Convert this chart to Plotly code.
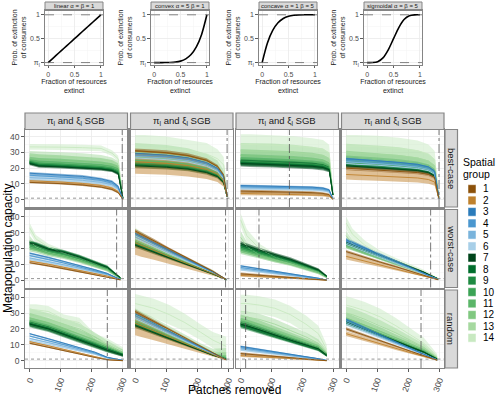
import plotly.graph_objects as go

FONT = "Liberation Sans, Arial, sans-serif"
W, H = 500, 399

# ---------------- data: top shape panels ----------------
SHAPE_TITLES = ["linear α = β = 1", "convex α = 5 β = 1", "concave α = 1 β = 5", "sigmoidal α = β = 5"]
SHAPE_X = [0, 0.1, 0.2, 0.3, 0.4, 0.5, 0.6, 0.7, 0.8, 0.9, 1.0]
SHAPE_LINEAR = [0, 0.1, 0.2, 0.3, 0.4, 0.5, 0.6, 0.7, 0.8, 0.9, 1.0]
SHAPE_CONVEX = [0, 0.0, 0.0003, 0.0024, 0.0102, 0.031, 0.078, 0.168, 0.328, 0.59, 1.0]
SHAPE_CONCAVE = [0, 0.41, 0.672, 0.832, 0.922, 0.969, 0.99, 0.998, 1.0, 1.0, 1.0]
SHAPE_SIGMOID = [0, 0.0009, 0.0196, 0.0988, 0.2666, 0.5, 0.7334, 0.9012, 0.9804, 0.9991, 1.0]

# ---------------- data: main panels ----------------
COL_TITLE = "π<sub>l</sub> and ξ<sub>l</sub> SGB"
ROW_TITLES = ["best-case", "worst-case", "random"]
GROUP_LABELS = ["1", "2", "3", "4", "5", "6", "7", "8", "9", "10", "11", "12", "13", "14"]
GROUP_COLORS = ["#8c510a", "#bf812d", "#2b7bba", "#4b97cf", "#7ab4dc", "#a8cfe8",
                "#00441b", "#006d2c", "#1f8a42", "#3ba355", "#5bb669", "#80c880", "#a6d9a0", "#c8e9c1"]

KNOTS_BEST = [0, 30, 100, 170, 230, 265, 285]
KNOTS_OTHER = [0, 20, 60, 110, 160, 210, 250]
END_X = [[300, 296, 297, 298], [292, 293, 277, 296], [300, 293, 277, 293]]
THRESHOLD_X = [[298, 296, 157, 299], [280, 291, 59, 272], [250, 278, 16, 241]]
X_TICKS = [0, 100, 200, 300]
Y_TICKS = [0, 10, 20, 30, 40]

MEAN_BEST_1 = [
    [11, 10.8, 10.2, 9.3, 8.0, 6.5, 4.5, 0.3],
    [12, 11.8, 11.2, 10.3, 9.0, 7.4, 5.2, 0.3],
    [16.8, 16.5, 15.8, 14.8, 13.2, 11.5, 8.5, 0.5],
    [15.5, 15.2, 14.6, 13.6, 12.2, 10.5, 7.8, 0.5],
    [14, 13.8, 13.2, 12.3, 11, 9.5, 7, 0.5],
    [12.8, 12.6, 12, 11.2, 10, 8.6, 6.4, 0.5],
    [23, 21.3, 20.8, 20.2, 19.4, 18.5, 16.5, 1],
    [23.5, 21.8, 21.2, 20.6, 19.8, 18.8, 17, 1],
    [24, 22.3, 21.7, 21, 20.2, 19.2, 17.5, 1],
    [24, 23.2, 22.6, 21.9, 21, 20, 18.5, 1],
    [24.8, 24.2, 23.6, 22.9, 22, 21, 19.5, 1],
    [26, 25.6, 25, 24.3, 23.4, 22.3, 20.5, 1],
    [28, 27.8, 27.3, 26.6, 25.6, 24.2, 22, 1.2],
    [33.5, 33.5, 33.3, 33, 32.5, 29.5, 26, 1.5],
]
HW_BEST_1 = [
    [0.6, 0.6, 0.6, 0.6, 0.6, 0.6, 0.5, 0.2],
    [0.8, 0.8, 0.8, 0.8, 0.8, 0.8, 0.6, 0.2],
    [0.8, 0.8, 0.8, 0.8, 0.8, 0.8, 0.7, 0.3],
    [0.8, 0.8, 0.8, 0.8, 0.8, 0.8, 0.7, 0.3],
    [0.7, 0.7, 0.7, 0.7, 0.7, 0.7, 0.6, 0.3],
    [0.6, 0.6, 0.6, 0.6, 0.6, 0.6, 0.5, 0.3],
    [1.2, 1, 1, 1, 1, 1, 1, 0.5],
    [1.2, 1, 1, 1, 1, 1, 1, 0.5],
    [1.3, 1.1, 1.1, 1.1, 1.1, 1.1, 1, 0.5],
    [1.8, 1.6, 1.6, 1.6, 1.6, 1.5, 1.4, 0.5],
    [2.5, 2.3, 2.3, 2.3, 2.2, 2.1, 2, 0.6],
    [3.5, 3.2, 3.2, 3.1, 3, 2.8, 2.6, 0.7],
    [2.8, 2.8, 2.8, 2.8, 2.7, 2.6, 2.4, 0.8],
    [1.8, 1.8, 1.8, 1.8, 1.8, 1.8, 1.8, 0.8],
]
MEAN_BEST_2 = [
    [31, 30.7, 29.8, 28, 25, 21, 15.5, 2],
    [24, 23.7, 23, 21.6, 19.2, 16.3, 12, 2],
    [29.5, 29.2, 28.3, 26.6, 23.6, 20, 14.8, 2],
    [28.5, 28.2, 27.4, 25.7, 22.8, 19.4, 14.3, 2],
    [27.5, 27.2, 26.4, 24.8, 22, 18.7, 13.8, 2],
    [26.5, 26.2, 25.4, 23.9, 21.2, 18, 13.3, 2],
    [21.5, 21.3, 20.6, 19.4, 17.2, 14.6, 10.8, 1.8],
    [22, 21.8, 21.1, 19.8, 17.6, 15, 11, 1.8],
    [22.5, 22.3, 21.6, 20.3, 18, 15.3, 11.3, 1.8],
    [23.5, 23.3, 22.6, 21.2, 18.8, 16, 11.8, 2],
    [25, 24.7, 24, 22.5, 20, 17, 12.5, 2],
    [27, 26.7, 26, 24.5, 21.8, 18.5, 13.8, 2],
    [30, 29.7, 28.8, 27, 24, 20.4, 15, 2],
    [33, 33, 32.5, 31, 29, 26, 22, 3],
]
HW_BEST_2 = [
    [1.5, 1.5, 1.5, 1.4, 1.3, 1.2, 1, 0.4],
    [7.5, 7.4, 7.2, 6.8, 6, 5, 3.8, 0.5],
    [1, 1, 1, 1, 0.9, 0.8, 0.7, 0.3],
    [1, 1, 1, 1, 0.9, 0.8, 0.7, 0.3],
    [1, 1, 1, 1, 0.9, 0.8, 0.7, 0.3],
    [1, 1, 1, 1, 0.9, 0.8, 0.7, 0.3],
    [1.5, 1.5, 1.5, 1.4, 1.3, 1.2, 1, 0.4],
    [1.5, 1.5, 1.5, 1.4, 1.3, 1.2, 1, 0.4],
    [1.5, 1.5, 1.5, 1.4, 1.3, 1.2, 1, 0.4],
    [2, 2, 2, 1.9, 1.8, 1.6, 1.3, 0.4],
    [3, 3, 3, 2.8, 2.6, 2.3, 1.8, 0.5],
    [4.5, 4.5, 4.4, 4.2, 3.8, 3.3, 2.6, 0.6],
    [6, 6, 5.9, 5.6, 5, 4.4, 3.5, 0.7],
    [8, 8, 7.5, 7, 7, 6, 5, 1],
]
MEAN_BEST_3 = [
    [5.5, 5.4, 5.2, 4.9, 4.5, 4, 3.2, 0.3],
    [4, 3.9, 3.8, 3.6, 3.3, 2.9, 2.3, 0.3],
    [9, 8.9, 8.7, 8.4, 8, 7.4, 6.3, 0.5],
    [8.3, 8.2, 8, 7.7, 7.3, 6.8, 5.8, 0.5],
    [7.6, 7.5, 7.3, 7, 6.7, 6.2, 5.3, 0.5],
    [6.9, 6.8, 6.6, 6.4, 6.1, 5.6, 4.8, 0.5],
    [23, 22.8, 22.4, 21.9, 21.2, 20.4, 19, 3],
    [23.5, 23.3, 22.9, 22.4, 21.7, 20.9, 19.4, 3],
    [24, 23.8, 23.4, 22.9, 22.2, 21.4, 19.8, 3],
    [24.5, 24.3, 23.9, 23.3, 22.6, 21.8, 20.2, 3],
    [26, 25.8, 25.4, 24.8, 24, 23, 21.4, 3],
    [28, 27.8, 27.4, 26.8, 26, 25, 23.2, 3],
    [31, 31, 30.6, 30, 29, 28, 26, 3.5],
    [35, 35, 34.5, 34, 33, 32, 29.5, 4],
]
HW_BEST_3 = [
    [1, 1, 1, 1, 0.9, 0.8, 0.7, 0.3],
    [1.2, 1.2, 1.2, 1.1, 1, 0.9, 0.8, 0.3],
    [0.6, 0.6, 0.6, 0.6, 0.6, 0.6, 0.5, 0.3],
    [0.6, 0.6, 0.6, 0.6, 0.6, 0.6, 0.5, 0.3],
    [0.6, 0.6, 0.6, 0.6, 0.6, 0.6, 0.5, 0.3],
    [0.6, 0.6, 0.6, 0.6, 0.6, 0.6, 0.5, 0.3],
    [2, 2, 2, 2, 1.9, 1.8, 1.6, 0.8],
    [2, 2, 2, 2, 1.9, 1.8, 1.6, 0.8],
    [2, 2, 2, 2, 1.9, 1.8, 1.6, 0.8],
    [2.5, 2.5, 2.5, 2.4, 2.3, 2.2, 2, 0.8],
    [3, 3, 3, 2.9, 2.8, 2.6, 2.4, 0.9],
    [4, 4, 4, 3.9, 3.7, 3.5, 3.2, 1],
    [5, 5, 5, 4.8, 4.6, 4.4, 4, 1],
    [6.5, 6.5, 6.3, 6.2, 6, 5.8, 5.3, 1.2],
]
MEAN_BEST_4 = [
    [20, 19.6, 19, 18.2, 17.2, 16, 14, 1],
    [16, 15.7, 15.2, 14.6, 13.8, 12.8, 11.2, 1],
    [26, 25.5, 24.7, 23.7, 22.4, 20.8, 18.2, 1.5],
    [25, 24.5, 23.8, 22.8, 21.5, 20, 17.5, 1.5],
    [24, 23.5, 22.8, 21.8, 20.6, 19.2, 16.8, 1.5],
    [23, 22.5, 21.9, 20.9, 19.8, 18.4, 16.1, 1.5],
    [21.5, 21.1, 20.4, 19.6, 18.5, 17.2, 15, 1.5],
    [22, 21.6, 20.9, 20, 18.9, 17.6, 15.4, 1.5],
    [22.5, 22, 21.4, 20.5, 19.4, 18, 15.8, 1.5],
    [23.5, 23, 22.3, 21.4, 20.2, 18.8, 16.5, 1.5],
    [25, 24.5, 23.8, 22.8, 21.5, 20, 17.5, 1.5],
    [27, 26.5, 25.7, 24.6, 23.2, 21.6, 19, 1.5],
    [30, 29.7, 29, 28, 26.5, 24.5, 21.5, 2],
    [34, 34, 33.5, 32.5, 31, 29, 25.5, 2.5],
]
HW_BEST_4 = [
    [1.2, 1.2, 1.2, 1.1, 1.1, 1, 0.9, 0.4],
    [3.2, 3.2, 3.1, 3, 2.8, 2.6, 2.3, 0.5],
    [1.2, 1.2, 1.2, 1.1, 1.1, 1, 0.9, 0.4],
    [1.2, 1.2, 1.2, 1.1, 1.1, 1, 0.9, 0.4],
    [1.2, 1.2, 1.2, 1.1, 1.1, 1, 0.9, 0.4],
    [1.2, 1.2, 1.2, 1.1, 1.1, 1, 0.9, 0.4],
    [1.5, 1.5, 1.5, 1.4, 1.4, 1.3, 1.1, 0.5],
    [1.5, 1.5, 1.5, 1.4, 1.4, 1.3, 1.1, 0.5],
    [1.5, 1.5, 1.5, 1.4, 1.4, 1.3, 1.1, 0.5],
    [2, 2, 2, 1.9, 1.8, 1.7, 1.5, 0.5],
    [3, 3, 3, 2.9, 2.7, 2.5, 2.2, 0.6],
    [4, 4, 4, 3.8, 3.6, 3.3, 2.9, 0.7],
    [5.5, 5.5, 5.4, 5.2, 4.9, 4.5, 4, 0.8],
    [7, 7, 7, 6.8, 6.5, 6, 5.3, 1],
]
MEAN_WORST_1 = [
    [11, 10.4, 9, 7.2, 5.4, 3.5, 2, 0.2],
    [12, 11.4, 10, 8.1, 6.2, 4.2, 2.6, 0.2],
    [17, 16.2, 14.3, 11.8, 9.3, 6.6, 4.3, 0.5],
    [15.5, 14.8, 13, 10.8, 8.5, 6, 3.9, 0.5],
    [14, 13.3, 11.7, 9.7, 7.6, 5.4, 3.5, 0.5],
    [13, 12.4, 10.9, 9, 7.1, 5, 3.2, 0.5],
    [23.5, 22.5, 19.5, 17.5, 14.5, 11, 8, 1.5],
    [24, 23, 20, 18, 15, 11.5, 8.5, 1.5],
    [22.5, 21.5, 18.8, 16.8, 14, 10.7, 7.7, 1.5],
    [21.5, 20.5, 18, 16, 13.3, 10.2, 7.3, 1.3],
    [20.5, 19.5, 17.2, 15.3, 12.7, 9.7, 7, 1.2],
    [19.5, 18.8, 16.5, 14.7, 12.2, 9.3, 6.7, 1.2],
    [25, 21, 17.5, 15.5, 12.8, 9.8, 7, 1.2],
    [33, 26, 21, 17, 14, 10.5, 7.5, 1.2],
]
HW_WORST_1 = [
    [0.5, 0.5, 0.5, 0.5, 0.5, 0.4, 0.3, 0.1],
    [0.6, 0.6, 0.6, 0.5, 0.5, 0.4, 0.3, 0.1],
    [0.6, 0.6, 0.6, 0.5, 0.5, 0.4, 0.3, 0.2],
    [0.6, 0.6, 0.6, 0.5, 0.5, 0.4, 0.3, 0.2],
    [0.6, 0.6, 0.6, 0.5, 0.5, 0.4, 0.3, 0.2],
    [0.6, 0.6, 0.6, 0.5, 0.5, 0.4, 0.3, 0.2],
    [1, 1, 1, 1, 1, 0.9, 0.8, 0.4],
    [1, 1, 1, 1, 1, 0.9, 0.8, 0.4],
    [1, 1, 1, 1, 1, 0.9, 0.8, 0.4],
    [1.2, 1.2, 1.2, 1.1, 1.1, 1, 0.9, 0.4],
    [1.2, 1.2, 1.2, 1.1, 1.1, 1, 0.9, 0.4],
    [1.5, 1.5, 1.4, 1.4, 1.3, 1.2, 1.1, 0.5],
    [3, 2, 1.5, 1.5, 1.5, 1.5, 1.5, 0.5],
    [3, 2.5, 2, 2, 2, 2, 2, 0.8],
]
MEAN_WORST_2 = [
    [31, 29, 25, 19.5, 14.5, 9.6, 5.6, 0.5],
    [23.5, 21.8, 18.8, 14.8, 11, 7.3, 4.2, 0.4],
    [29.5, 27.5, 23.6, 18.6, 13.9, 9.1, 5.3, 0.5],
    [28.5, 26.5, 22.8, 18, 13.4, 8.8, 5.1, 0.5],
    [27.5, 25.6, 22, 17.3, 12.9, 8.5, 5, 0.5],
    [26.5, 24.6, 21.2, 16.7, 12.5, 8.2, 4.8, 0.5],
    [22, 20.5, 17.6, 13.9, 10.3, 6.8, 4, 0.4],
    [22.5, 20.9, 18, 14.2, 10.6, 7, 4.1, 0.4],
    [23, 21.4, 18.4, 14.5, 10.8, 7.1, 4.1, 0.4],
    [23.5, 21.9, 18.8, 14.8, 11, 7.3, 4.2, 0.4],
    [24, 22.3, 19.2, 15.1, 11.3, 7.4, 4.3, 0.4],
    [25, 23.2, 20, 15.8, 11.8, 7.8, 4.5, 0.4],
    [26, 24.2, 20.8, 16.4, 12.2, 8.1, 4.7, 0.5],
    [28, 26, 22, 17, 12.5, 8.5, 5, 0.5],
]
HW_WORST_2 = [
    [1.2, 1.2, 1.1, 1, 0.9, 0.8, 0.6, 0.2],
    [7.5, 7, 6, 4.7, 3.5, 2.3, 1.4, 0.2],
    [1, 1, 0.9, 0.8, 0.7, 0.6, 0.5, 0.2],
    [1, 1, 0.9, 0.8, 0.7, 0.6, 0.5, 0.2],
    [1, 1, 0.9, 0.8, 0.7, 0.6, 0.5, 0.2],
    [1, 1, 0.9, 0.8, 0.7, 0.6, 0.5, 0.2],
    [1.5, 1.4, 1.3, 1.1, 0.9, 0.7, 0.5, 0.2],
    [1.5, 1.4, 1.3, 1.1, 0.9, 0.7, 0.5, 0.2],
    [1.5, 1.4, 1.3, 1.1, 0.9, 0.7, 0.5, 0.2],
    [2, 1.9, 1.7, 1.4, 1.1, 0.8, 0.6, 0.2],
    [2.5, 2.4, 2.1, 1.7, 1.3, 1, 0.7, 0.2],
    [3, 2.8, 2.5, 2, 1.6, 1.2, 0.8, 0.2],
    [3.5, 3.3, 2.9, 2.4, 1.9, 1.4, 0.9, 0.3],
    [5, 4.5, 3.5, 3, 2.5, 2, 1.5, 0.3],
]
MEAN_WORST_3 = [
    [4, 3.7, 3.2, 2.5, 1.8, 1.1, 0.6, 0],
    [3, 2.8, 2.4, 1.9, 1.4, 0.8, 0.4, 0],
    [9, 8.4, 7.2, 5.7, 4.1, 2.5, 1.3, 0.1],
    [8, 7.4, 6.4, 5, 3.7, 2.2, 1.1, 0.1],
    [7.2, 6.7, 5.8, 4.5, 3.3, 2, 1, 0.1],
    [6.4, 6, 5.1, 4, 2.9, 1.8, 0.9, 0.1],
    [23, 21.5, 19, 16, 13.2, 9.5, 6.5, 2.5],
    [22, 20.6, 18.2, 15.3, 12.6, 9.1, 6.2, 2.4],
    [21, 19.7, 17.4, 14.6, 12, 8.7, 5.9, 2.3],
    [20, 18.8, 16.6, 14, 11.5, 8.3, 5.7, 2.2],
    [19, 17.9, 15.8, 13.3, 10.9, 7.9, 5.4, 2.1],
    [18, 17, 15, 12.6, 10.4, 7.5, 5.1, 2],
    [27, 21, 16, 13, 10.5, 7.6, 5.2, 2],
    [38, 28, 20, 14.5, 11.5, 8.2, 5.5, 2],
]
HW_WORST_3 = [
    [0.8, 0.8, 0.7, 0.6, 0.5, 0.4, 0.3, 0],
    [0.8, 0.8, 0.7, 0.6, 0.5, 0.4, 0.3, 0],
    [0.5, 0.5, 0.5, 0.4, 0.4, 0.3, 0.2, 0.1],
    [0.5, 0.5, 0.5, 0.4, 0.4, 0.3, 0.2, 0.1],
    [0.5, 0.5, 0.5, 0.4, 0.4, 0.3, 0.2, 0.1],
    [0.5, 0.5, 0.5, 0.4, 0.4, 0.3, 0.2, 0.1],
    [1.5, 1.5, 1.4, 1.3, 1.2, 1.1, 1, 0.6],
    [1.5, 1.5, 1.4, 1.3, 1.2, 1.1, 1, 0.6],
    [1.5, 1.5, 1.4, 1.3, 1.2, 1.1, 1, 0.6],
    [1.5, 1.5, 1.4, 1.3, 1.2, 1.1, 1, 0.6],
    [1.5, 1.5, 1.4, 1.3, 1.2, 1.1, 1, 0.6],
    [1.5, 1.5, 1.4, 1.3, 1.2, 1.1, 1, 0.6],
    [4, 3, 2, 1.8, 1.6, 1.5, 1.4, 0.8],
    [4, 4, 3, 2.5, 2, 2, 1.8, 1],
]
MEAN_WORST_4 = [
    [18, 16.7, 14.4, 11.3, 8.5, 5.6, 3.2, 0.3],
    [15, 14, 12, 9.5, 7, 4.6, 2.7, 0.3],
    [25.5, 23.7, 20.4, 16.1, 12, 7.9, 4.6, 0.5],
    [24.5, 22.8, 19.6, 15.4, 11.5, 7.6, 4.4, 0.5],
    [23.5, 21.9, 18.8, 14.8, 11, 7.3, 4.2, 0.5],
    [22.5, 20.9, 18, 14.2, 10.6, 7, 4, 0.5],
    [24, 22.3, 19.2, 15.5, 11.8, 8, 5, 0.8],
    [23.5, 21.9, 18.8, 15.2, 11.6, 7.8, 4.9, 0.8],
    [23, 21.4, 18.4, 14.9, 11.3, 7.6, 4.8, 0.8],
    [22.5, 20.9, 18, 14.5, 11, 7.4, 4.6, 0.8],
    [22, 20.5, 17.6, 14.2, 10.8, 7.2, 4.5, 0.8],
    [21.5, 20, 17.2, 13.9, 10.5, 7, 4.4, 0.8],
    [28, 23, 18.5, 14.5, 11, 7.3, 4.5, 0.8],
    [36, 29, 22, 16, 12, 8, 5, 1],
]
HW_WORST_4 = [
    [1, 1, 0.9, 0.8, 0.7, 0.5, 0.4, 0.1],
    [2, 1.9, 1.7, 1.4, 1.1, 0.8, 0.5, 0.1],
    [1, 1, 0.9, 0.8, 0.7, 0.5, 0.4, 0.2],
    [1, 1, 0.9, 0.8, 0.7, 0.5, 0.4, 0.2],
    [1, 1, 0.9, 0.8, 0.7, 0.5, 0.4, 0.2],
    [1, 1, 0.9, 0.8, 0.7, 0.5, 0.4, 0.2],
    [1.2, 1.2, 1.1, 1, 0.9, 0.7, 0.5, 0.2],
    [1.2, 1.2, 1.1, 1, 0.9, 0.7, 0.5, 0.2],
    [1.2, 1.2, 1.1, 1, 0.9, 0.7, 0.5, 0.2],
    [1.3, 1.3, 1.2, 1.1, 1, 0.8, 0.6, 0.2],
    [1.5, 1.5, 1.4, 1.2, 1.1, 0.9, 0.7, 0.2],
    [1.5, 1.5, 1.4, 1.2, 1.1, 0.9, 0.7, 0.2],
    [3, 2.5, 2, 1.8, 1.6, 1.4, 1.2, 0.5],
    [4, 3.5, 3, 2.5, 2, 1.8, 1.5, 0.5],
]
MEAN_RANDOM_1 = [
    [11, 10.2, 8.5, 6.3, 4.2, 2, 0.5, 0],
    [12, 11.2, 9.4, 7.1, 4.8, 2.5, 0.8, 0],
    [17, 16, 13.8, 11, 8.2, 5.4, 2.2, 0.2],
    [15.5, 14.6, 12.6, 10.1, 7.5, 4.9, 2, 0.2],
    [14, 13.2, 11.4, 9.1, 6.8, 4.4, 1.8, 0.2],
    [12.8, 12, 10.4, 8.3, 6.2, 4, 1.6, 0.2],
    [23, 22, 20, 16.5, 13, 9.5, 6.5, 3.5],
    [23.5, 22.5, 20.5, 17, 13.5, 10, 7, 4],
    [22.5, 21.5, 19.5, 16, 12.5, 9.2, 6.2, 3.5],
    [24, 23, 21, 17.5, 14, 10.5, 7.5, 4],
    [25, 24, 22, 18.5, 15, 11.5, 8, 4.5],
    [27, 26, 24, 20.5, 17, 13, 9, 5],
    [29, 28, 26, 23, 20, 15, 10, 5],
    [32, 32, 31, 26, 24, 14, 11, 6],
]
HW_RANDOM_1 = [
    [0.5, 0.5, 0.5, 0.4, 0.3, 0.2, 0.1, 0],
    [0.6, 0.6, 0.5, 0.4, 0.3, 0.2, 0.1, 0],
    [0.5, 0.5, 0.5, 0.4, 0.4, 0.3, 0.2, 0.1],
    [0.5, 0.5, 0.5, 0.4, 0.4, 0.3, 0.2, 0.1],
    [0.5, 0.5, 0.5, 0.4, 0.4, 0.3, 0.2, 0.1],
    [0.5, 0.5, 0.5, 0.4, 0.4, 0.3, 0.2, 0.1],
    [1.5, 1.5, 1.5, 1.4, 1.3, 1.2, 1.1, 1],
    [1.5, 1.5, 1.5, 1.4, 1.3, 1.2, 1.1, 1],
    [1.5, 1.5, 1.5, 1.4, 1.3, 1.2, 1.1, 1],
    [1.8, 1.8, 1.7, 1.6, 1.5, 1.4, 1.3, 1.2],
    [2.2, 2.2, 2.1, 2, 1.9, 1.8, 1.6, 1.4],
    [3, 3, 2.9, 2.7, 2.5, 2.3, 2, 1.8],
    [4, 4, 3.8, 3.5, 3.2, 2.8, 2.5, 2.2],
    [3.5, 3.5, 3.5, 3, 3, 3, 3, 2.5],
]
MEAN_RANDOM_2 = [
    [31, 28.9, 24.8, 19.5, 14.3, 9, 5, 0.6],
    [23.5, 21.9, 18.8, 14.8, 10.8, 6.8, 3.8, 0.5],
    [29.5, 27.4, 23.6, 18.6, 13.6, 8.6, 4.7, 0.6],
    [28.5, 26.5, 22.8, 18, 13.1, 8.3, 4.6, 0.6],
    [27.5, 25.6, 22, 17.3, 12.7, 8, 4.4, 0.6],
    [26.5, 24.6, 21.2, 16.7, 12.2, 7.7, 4.2, 0.6],
    [22, 20.5, 17.6, 13.9, 10.1, 6.4, 3.5, 1],
    [22.5, 20.9, 18, 14.2, 10.4, 6.5, 3.6, 1],
    [23, 21.4, 18.4, 14.5, 10.6, 6.7, 3.7, 1],
    [23.5, 21.9, 18.8, 14.8, 10.8, 6.8, 3.8, 1.5],
    [24.5, 22.8, 19.6, 15.4, 11.3, 7.1, 4, 2],
    [26, 24.2, 20.8, 16.4, 12, 7.5, 4.2, 3],
    [29, 27, 23.5, 19, 14, 9, 5.5, 5],
    [36, 35, 33, 29, 24, 18, 13, 9],
]
HW_RANDOM_2 = [
    [1.2, 1.2, 1.1, 1, 0.8, 0.6, 0.4, 0.2],
    [7.5, 7, 6, 4.7, 3.5, 2.2, 1.2, 0.3],
    [1, 1, 0.9, 0.8, 0.7, 0.5, 0.4, 0.2],
    [1, 1, 0.9, 0.8, 0.7, 0.5, 0.4, 0.2],
    [1, 1, 0.9, 0.8, 0.7, 0.5, 0.4, 0.2],
    [1, 1, 0.9, 0.8, 0.7, 0.5, 0.4, 0.2],
    [1.5, 1.4, 1.3, 1.1, 0.9, 0.7, 0.5, 0.4],
    [1.5, 1.4, 1.3, 1.1, 0.9, 0.7, 0.5, 0.4],
    [1.5, 1.4, 1.3, 1.1, 0.9, 0.7, 0.5, 0.4],
    [2, 1.9, 1.7, 1.4, 1.1, 0.8, 0.6, 0.8],
    [2.5, 2.4, 2.1, 1.7, 1.3, 1, 0.7, 1.2],
    [3, 2.8, 2.5, 2, 1.6, 1.2, 0.8, 2],
    [4, 3.8, 3.5, 3, 2.5, 2, 2, 3],
    [6, 6, 6, 6, 5.5, 5, 5, 6],
]
MEAN_RANDOM_3 = [
    [4.5, 4.2, 3.6, 2.8, 2, 1.2, 0.6, 0],
    [3.2, 3, 2.6, 2, 1.4, 0.8, 0.4, 0],
    [9, 8.4, 7.2, 5.7, 4.1, 2.5, 1.3, 0.1],
    [8.2, 7.6, 6.6, 5.2, 3.8, 2.3, 1.2, 0.1],
    [7.4, 6.9, 5.9, 4.7, 3.4, 2.1, 1.1, 0.1],
    [6.6, 6.1, 5.3, 4.2, 3, 1.8, 0.9, 0.1],
    [23, 22, 19.5, 16, 13, 10, 7.5, 3.5],
    [22.5, 21.5, 19, 15.6, 12.7, 9.7, 7.3, 3.4],
    [22, 21, 18.6, 15.3, 12.4, 9.5, 7.1, 3.3],
    [23.5, 22.5, 20, 16.5, 13.4, 10.3, 7.8, 3.6],
    [24.5, 23.5, 21, 17.5, 14.2, 11, 8.3, 3.8],
    [26, 25, 22.5, 19, 15.5, 12, 9, 4],
    [28, 27.5, 26, 23, 19, 15, 11, 5],
    [36, 36, 35, 33, 29, 23, 17, 7],
]
HW_RANDOM_3 = [
    [0.8, 0.8, 0.7, 0.6, 0.5, 0.4, 0.3, 0],
    [0.8, 0.8, 0.7, 0.6, 0.5, 0.4, 0.3, 0],
    [0.5, 0.5, 0.5, 0.4, 0.4, 0.3, 0.2, 0.1],
    [0.5, 0.5, 0.5, 0.4, 0.4, 0.3, 0.2, 0.1],
    [0.5, 0.5, 0.5, 0.4, 0.4, 0.3, 0.2, 0.1],
    [0.5, 0.5, 0.5, 0.4, 0.4, 0.3, 0.2, 0.1],
    [1.5, 1.5, 1.5, 1.4, 1.3, 1.2, 1.1, 0.8],
    [1.5, 1.5, 1.5, 1.4, 1.3, 1.2, 1.1, 0.8],
    [1.5, 1.5, 1.5, 1.4, 1.3, 1.2, 1.1, 0.8],
    [2, 2, 1.9, 1.8, 1.7, 1.5, 1.3, 1],
    [2.5, 2.5, 2.4, 2.2, 2, 1.8, 1.6, 1.2],
    [3, 3, 2.9, 2.7, 2.5, 2.2, 2, 1.4],
    [3.5, 3.5, 3.5, 3.3, 3, 2.8, 2.5, 1.8],
    [5.5, 5.5, 5.5, 5.5, 5.5, 5.5, 5, 3],
]
MEAN_RANDOM_4 = [
    [20, 18.6, 16, 12.6, 9.2, 5.8, 3.2, 0.3],
    [17, 15.8, 13.6, 10.7, 7.8, 4.9, 2.7, 0.3],
    [26, 24.2, 20.8, 16.4, 12, 7.5, 4.2, 0.5],
    [25, 23.3, 20, 15.8, 11.5, 7.3, 4, 0.5],
    [24, 22.3, 19.2, 15.1, 11, 7, 3.8, 0.5],
    [23, 21.4, 18.4, 14.5, 10.6, 6.7, 3.7, 0.5],
    [24.5, 23, 20, 16, 12.3, 8.5, 5.5, 1],
    [24, 22.5, 19.6, 15.7, 12, 8.3, 5.4, 1],
    [23.5, 22, 19.2, 15.4, 11.8, 8.1, 5.3, 1],
    [24, 22.6, 19.8, 16, 12.4, 8.6, 5.7, 1.2],
    [25, 23.6, 20.8, 17, 13.2, 9.3, 6.2, 1.4],
    [27, 25.5, 22.5, 18.5, 14.5, 10.3, 7, 1.6],
    [30, 29, 26, 22, 17.5, 12.5, 8.5, 2],
    [35, 34, 31.5, 27.5, 22, 16, 11, 3],
]
HW_RANDOM_4 = [
    [1, 1, 0.9, 0.8, 0.7, 0.5, 0.4, 0.1],
    [1.5, 1.5, 1.4, 1.2, 1, 0.8, 0.5, 0.1],
    [1, 1, 0.9, 0.8, 0.7, 0.5, 0.4, 0.2],
    [1, 1, 0.9, 0.8, 0.7, 0.5, 0.4, 0.2],
    [1, 1, 0.9, 0.8, 0.7, 0.5, 0.4, 0.2],
    [1, 1, 0.9, 0.8, 0.7, 0.5, 0.4, 0.2],
    [1.2, 1.2, 1.1, 1, 0.9, 0.8, 0.6, 0.3],
    [1.2, 1.2, 1.1, 1, 0.9, 0.8, 0.6, 0.3],
    [1.2, 1.2, 1.1, 1, 0.9, 0.8, 0.6, 0.3],
    [1.5, 1.5, 1.4, 1.3, 1.2, 1, 0.8, 0.4],
    [2, 2, 1.9, 1.7, 1.5, 1.3, 1.1, 0.5],
    [3, 3, 2.8, 2.5, 2.2, 1.9, 1.5, 0.6],
    [4, 4, 3.8, 3.5, 3, 2.5, 2, 0.8],
    [5.5, 5.5, 5.4, 5.2, 4.8, 4.2, 3.5, 1.2],
]

PANELS = [
    [(MEAN_BEST_1, HW_BEST_1), (MEAN_BEST_2, HW_BEST_2), (MEAN_BEST_3, HW_BEST_3), (MEAN_BEST_4, HW_BEST_4)],
    [(MEAN_WORST_1, HW_WORST_1), (MEAN_WORST_2, HW_WORST_2), (MEAN_WORST_3, HW_WORST_3), (MEAN_WORST_4, HW_WORST_4)],
    [(MEAN_RANDOM_1, HW_RANDOM_1), (MEAN_RANDOM_2, HW_RANDOM_2), (MEAN_RANDOM_3, HW_RANDOM_3), (MEAN_RANDOM_4, HW_RANDOM_4)],
]

# ---------------- layout geometry (pixels) ----------------
def fx(p):
    return p / W


def fy(p):
    return 1 - p / H


def rgba(hexc, a):
    h = hexc.lstrip("#")
    return "rgba(%d,%d,%d,%.3f)" % (int(h[0:2], 16), int(h[2:4], 16), int(h[4:6], 16), a)


SMALL_LEFT = [45, 151, 259, 364]
SMALL_W = 58
SMALL_STRIP = (2, 10.5)
SMALL_PLOT = (10.5, 64.5)

COL_LEFT = [25, 130.5, 236, 341.5]
COL_W = 102.5
ROW_SPAN = [(129.5, 207), (209.5, 287.5), (290, 368)]
TOP_STRIP = (113, 129.5)
RIGHT_STRIP = (445, 457.5)

BORDER = "#858585"
STRIP_FILL = "#d9d9d9"
GRID = "#ebebeb"
TICKTXT = "#4d4d4d"

fig = go.Figure()
layout = dict(
    width=W, height=H, margin=dict(l=0, r=0, t=0, b=0, pad=0),
    paper_bgcolor="white", plot_bgcolor="white", showlegend=False,
    template="none", font=dict(family=FONT, color="#1a1a1a"),
)
shapes = []
annots = []


def axis(domain, rng, tickvals, ticktext, labels, ticks, minor_dtick, angle=0, fs=8.5):
    return dict(
        domain=domain, range=rng, tickmode="array", tickvals=tickvals, ticktext=ticktext,
        showticklabels=labels, ticks="outside" if ticks else "", ticklen=2.5, tickwidth=0.8,
        tickcolor="#333333", tickfont=dict(size=fs, color=TICKTXT, family=FONT), tickangle=angle,
        showgrid=True, gridcolor=GRID, gridwidth=0.8,
        minor=dict(showgrid=True, gridcolor="#f4f4f4", gridwidth=0.5, tickmode="linear",
                   tick0=0, dtick=minor_dtick),
        showline=True, mirror=True, linecolor=BORDER, linewidth=1.3, zeroline=False,
        fixedrange=True, automargin=False,
    )


SHAPE_CURVES = [SHAPE_LINEAR, SHAPE_CONVEX, SHAPE_CONCAVE, SHAPE_SIGMOID]
for i in range(4):
    n = i + 1
    sx = "" if n == 1 else str(n)
    L = SMALL_LEFT[i]
    xa = axis([fx(L), fx(L + SMALL_W)], [-0.06, 1.04], [0, 0.5, 1], ["0", "0.5", "1"], True, True, 0.25, fs=7)
    xa["title"] = dict(text="Fraction of resources<br>extinct", font=dict(size=7, color="#1a1a1a"), standoff=2)
    ya = axis([fy(SMALL_PLOT[1]), fy(SMALL_PLOT[0])], [-0.04, 1.09], [0, 0.5, 1],
              ["π<sub>l</sub>", "0.5", "1"], True, True, 0.25, fs=7)
    ya["title"] = dict(text="Prob. of extinction<br>of consumers", font=dict(size=7, color="#1a1a1a"), standoff=2)
    xa["anchor"] = "y" + sx
    ya["anchor"] = "x" + sx
    layout["xaxis" + sx] = xa
    layout["yaxis" + sx] = ya
    for yv in (0, 1):
        shapes.append(dict(type="line", xref="x%s domain" % sx, yref="y" + sx, x0=0, x1=1, y0=yv, y1=yv,
                           line=dict(color="#666666", width=0.8, dash="dash")))
    fig.add_trace(go.Scatter(x=SHAPE_X, y=SHAPE_CURVES[i], mode="lines", xaxis="x" + sx, yaxis="y" + sx,
                             line=dict(color="black", width=1.6, shape="spline", smoothing=0.8),
                             hoverinfo="skip"))
    shapes.append(dict(type="rect", xref="paper", yref="paper", x0=fx(L), x1=fx(L + SMALL_W),
                       y0=fy(SMALL_STRIP[1]), y1=fy(SMALL_STRIP[0]), fillcolor=STRIP_FILL,
                       line=dict(color=BORDER, width=1), layer="below"))
    annots.append(dict(text=SHAPE_TITLES[i], xref="paper", yref="paper", x=fx(L + SMALL_W / 2),
                       y=fy((SMALL_STRIP[0] + SMALL_STRIP[1]) / 2), showarrow=False,
                       font=dict(size=6, color="#1a1a1a"), xanchor="center", yanchor="middle"))

# main panels
DRAW_ORDER = list(range(13, -1, -1))  # light greens first, browns last (on top)
for r in range(3):
    for c in range(4):
        n = 5 + r * 4 + c
        sx = str(n)
        L = COL_LEFT[c]
        top, bot = ROW_SPAN[r]
        xa = axis([fx(L), fx(L + COL_W)], [-15, 315], X_TICKS, [str(v) for v in X_TICKS],
                  r == 2, r == 2, 50, angle=-70)
        ya = axis([fy(bot), fy(top)], [-4.6, 44.5], Y_TICKS, [str(v) for v in Y_TICKS],
                  c == 0, c == 0, 5)
        xa["anchor"] = "y" + sx
        ya["anchor"] = "x" + sx
        layout["xaxis" + sx] = xa
        layout["yaxis" + sx] = ya
        knots = (KNOTS_BEST if r == 0 else KNOTS_OTHER) + [END_X[r][c]]
        means, hws = PANELS[r][c]
        for g in DRAW_ORDER:
            hi = [m + h for m, h in zip(means[g], hws[g])]
            lo = [m - h for m, h in zip(means[g], hws[g])]
            fig.add_trace(go.Scatter(x=knots + knots[::-1], y=hi + lo[::-1], mode="lines", fill="toself",
                                     fillcolor=rgba(GROUP_COLORS[g], 0.5), line=dict(width=0),
                                     xaxis="x" + sx, yaxis="y" + sx, hoverinfo="skip"))
        for g in DRAW_ORDER:
            fig.add_trace(go.Scatter(x=knots, y=means[g], mode="lines",
                                     line=dict(color=GROUP_COLORS[g], width=0.9),
                                     xaxis="x" + sx, yaxis="y" + sx, hoverinfo="skip"))
        shapes.append(dict(type="line", xref="x%s domain" % sx, yref="y" + sx, x0=0, x1=1, y0=1, y1=1,
                           line=dict(color="#8a8a8a", width=0.9, dash="dot")))
        shapes.append(dict(type="line", xref="x" + sx, yref="y%s domain" % sx, x0=THRESHOLD_X[r][c],
                           x1=THRESHOLD_X[r][c], y0=0, y1=1,
                           line=dict(color="#555555", width=0.8, dash="dashdot")))
        if r == 0:
            shapes.append(dict(type="rect", xref="paper", yref="paper", x0=fx(L), x1=fx(L + COL_W),
                               y0=fy(TOP_STRIP[1]), y1=fy(TOP_STRIP[0]), fillcolor=STRIP_FILL,
                               line=dict(color=BORDER, width=1.2)))
            annots.append(dict(text=COL_TITLE, xref="paper", yref="paper", x=fx(L + COL_W / 2),
                               y=fy((TOP_STRIP[0] + TOP_STRIP[1]) / 2), showarrow=False,
                               font=dict(size=9.5, color="#1a1a1a"), xanchor="center", yanchor="middle"))
        if c == 3:
            shapes.append(dict(type="rect", xref="paper", yref="paper", x0=fx(RIGHT_STRIP[0]),
                               x1=fx(RIGHT_STRIP[1]), y0=fy(bot), y1=fy(top), fillcolor=STRIP_FILL,
                               line=dict(color=BORDER, width=1.2)))
            annots.append(dict(text=ROW_TITLES[r], xref="paper", yref="paper",
                               x=fx((RIGHT_STRIP[0] + RIGHT_STRIP[1]) / 2), y=fy((top + bot) / 2),
                               showarrow=False, textangle=90, font=dict(size=9.5, color="#1a1a1a"),
                               xanchor="center", yanchor="middle"))

annots.append(dict(text="Metapopulation capacity", xref="paper", yref="paper", x=fx(8), y=fy(249),
                   showarrow=False, textangle=-90, font=dict(size=12, color="black"),
                   xanchor="center", yanchor="middle"))
annots.append(dict(text="Patches removed", xref="paper", yref="paper", x=fx(234.5), y=fy(390),
                   showarrow=False, font=dict(size=12, color="black"), xanchor="center", yanchor="middle"))

# legend (drawn manually)
annots.append(dict(text="Spatial", xref="paper", yref="paper", x=fx(461), y=fy(162), showarrow=False,
                   font=dict(size=10.5, color="black"), xanchor="left", yanchor="middle"))
annots.append(dict(text="group", xref="paper", yref="paper", x=fx(461), y=fy(174), showarrow=False,
                   font=dict(size=10.5, color="black"), xanchor="left", yanchor="middle"))
for g in range(14):
    yc = 189 + g * 11.45
    shapes.append(dict(type="rect", xref="paper", yref="paper", x0=fx(468), x1=fx(476),
                       y0=fy(yc + 4.3), y1=fy(yc - 4.3), fillcolor=GROUP_COLORS[g],
                       line=dict(color="white", width=0.5)))
    annots.append(dict(text=GROUP_LABELS[g], xref="paper", yref="paper", x=fx(481), y=fy(yc),
                       showarrow=False, font=dict(size=10, color="black"), xanchor="left", yanchor="middle"))

layout["shapes"] = shapes
layout["annotations"] = annots
fig.update_layout(**layout)
fig.write_html("out.html", include_plotlyjs=True, full_html=True,
               config={"displayModeBar": False, "staticPlot": True},
               post_script="document.body.style.margin='0';")
